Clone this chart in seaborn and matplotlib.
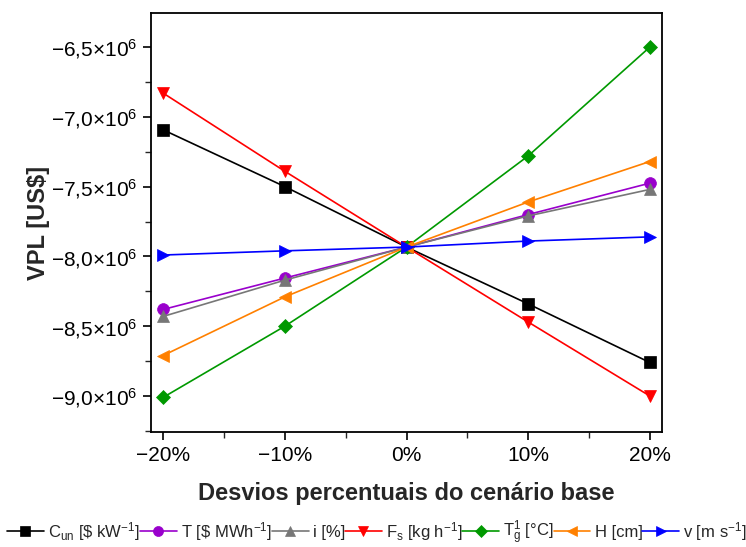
import numpy as np
import pandas as pd
import matplotlib
matplotlib.use("Agg")
import matplotlib.pyplot as plt
import seaborn as sns
from matplotlib.ticker import FixedLocator, FuncFormatter, MultipleLocator

sns.set_theme(style="ticks")
plt.rcParams['font.family'] = ['Liberation Sans', 'DejaVu Sans']
plt.rcParams['mathtext.fontset'] = 'custom'
plt.rcParams['mathtext.rm'] = 'Liberation Sans'
plt.rcParams['mathtext.it'] = 'Liberation Sans'
plt.rcParams['mathtext.bf'] = 'Liberation Sans:bold'

desvios = [-20, -10, 0, 10, 20]
cun = [-7.093e6, -7.50e6, -7.933e6, -8.34e6, -8.76e6]
tarifa = [-8.38e6, -8.155e6, -7.933e6, -7.70e6, -7.475e6]
juros = [-8.43e6, -8.17e6, -7.933e6, -7.71e6, -7.52e6]
fs = [-6.83e6, -7.39e6, -7.933e6, -8.47e6, -9.0e6]
tg = [-9.01e6, -8.50e6, -7.933e6, -7.28e6, -6.50e6]
altura = [-8.71e6, -8.29e6, -7.933e6, -7.61e6, -7.32e6]
vel = [-7.99e6, -7.96e6, -7.933e6, -7.89e6, -7.86e6]

labels = [r'C$_{\mathregular{un}}$ [\$ kW$^{\mathregular{-1}}$]',
          r'T [\$ MWh$^{\mathregular{-1}}$]',
          'i [%]',
          r'F$_{\mathregular{s}}$ [kg h$^{\mathregular{-1}}$]',
          r'T$_{\mathregular{g}}^{\mathregular{1}}$ [°C]',
          'H [cm]',
          r'v [m s$^{\mathregular{-1}}$]']
series = [cun, tarifa, juros, fs, tg, altura, vel]
colors = ['#000000', '#9900cc', '#777777', '#ff0000', '#009900', '#ff8000', '#0000ff']
markers = ['s', 'o', '^', 'v', 'D', '<', '>']
msizes = [8, 8.5, 9, 9, 7.5, 9, 9]

fig = plt.figure(figsize=(7.46, 5.47), dpi=100)
ax = fig.add_axes([151/746, 1-432/547, (662-151)/746, (432-13)/547])

for lab, vals, c, m, ms in zip(labels, series, colors, markers, msizes):
    df = pd.DataFrame({'x': desvios, 'y': vals})
    sns.lineplot(data=df, x='x', y='y', ax=ax, color=c, marker=m, markersize=ms,
                 markeredgecolor=c, markeredgewidth=0.5, linewidth=1.2, label=lab)

ax.set_xlim(-21, 21)
ax.set_ylim(-9.258e6, -6.256e6)
ax.xaxis.set_major_locator(FixedLocator([-20, -10, 0, 10, 20]))
ax.xaxis.set_minor_locator(MultipleLocator(5))
ax.yaxis.set_major_locator(MultipleLocator(0.5e6))
ax.yaxis.set_minor_locator(MultipleLocator(0.25e6))

def xfmt(v, p):
    s = f"{int(round(v))}%"
    return s.replace('-', '\u2212')

def yfmt(v, p):
    m = v / 1e6
    s = f"{m:.1f}".replace('.', ',').replace('-', '\u2212')
    return s + r'$\times$10$^{\mathregular{6}}$'

ax.xaxis.set_major_formatter(FuncFormatter(xfmt))
ax.yaxis.set_major_formatter(FuncFormatter(yfmt))
ax.tick_params(axis='both', which='major', direction='out', length=6, width=1.2,
               labelsize=15, colors='black', pad=4)
ax.tick_params(axis='both', which='minor', direction='out', length=4, width=1.0)
ax.tick_params(top=False, right=False, which='both')
for sp in ax.spines.values():
    sp.set_linewidth(1.3)
    sp.set_color('black')

ax.set_xlabel('Desvios percentuais do cenário base', fontsize=17, fontweight='bold', labelpad=12)
ax.set_ylabel('VPL [US$]', fontsize=17, fontweight='bold')
ax.yaxis.set_label_coords(-0.197, 0.5)

ax.legend(loc='center', bbox_to_anchor=(377/746, 1-533/547), bbox_transform=fig.transFigure,
          ncol=7, frameon=False, fontsize=12, handlelength=2.2, handletextpad=0.25,
          columnspacing=0.0, borderaxespad=0, markerscale=0.85)

fig.savefig('out.png', dpi=100)
